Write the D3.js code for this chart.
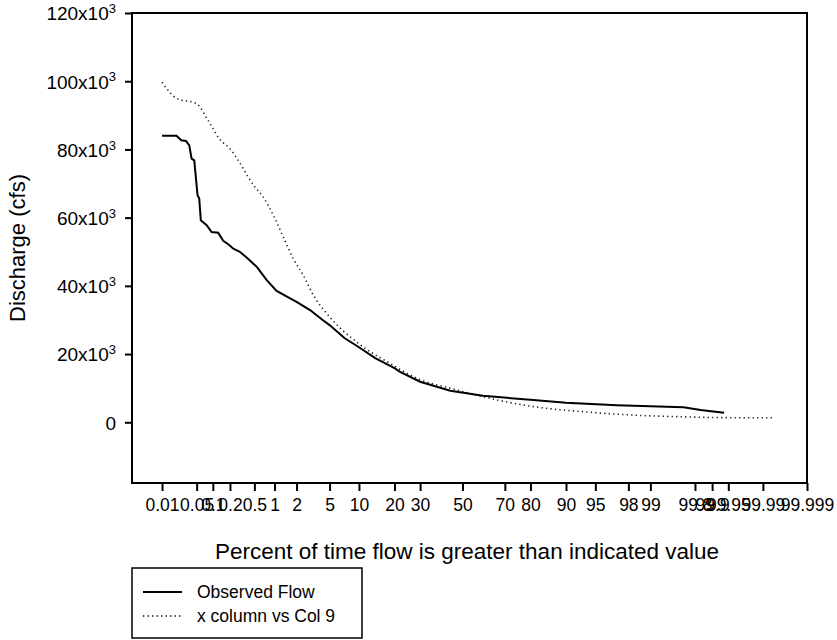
<!DOCTYPE html>
<html>
<head>
<meta charset="utf-8">
<script src="https://cdn.jsdelivr.net/npm/d3@7"></script>
<style>
  html, body { margin: 0; padding: 0; background: #fff; }
  svg { display: block; font-family: "Liberation Sans", Arial, sans-serif; }
</style>
</head>
<body>
<svg id="chart" width="837" height="640"></svg>
<script>
// Flow-duration data: percent of time exceeded vs discharge (cfs)
const observedPct = [0.01, 0.02, 0.025, 0.031, 0.036, 0.04, 0.045, 0.052, 0.056, 0.06, 0.077, 0.095, 0.125, 0.153, 0.187, 0.228, 0.293, 0.377, 0.542, 0.77, 1.07, 2.0, 2.96, 4.07, 5, 7.2, 10, 14, 20, 22, 30, 44, 60, 81, 90, 97.2, 99.69, 99.84, 99.94];
const observedQ   = [84000, 84000, 82700, 82500, 81200, 77300, 76800, 66600, 65600, 59200, 57800, 55800, 55600, 53200, 52200, 50900, 50000, 48300, 45600, 41700, 38500, 35300, 32900, 30200, 28500, 24700, 22000, 18800, 15900, 14800, 11900, 9250, 7800, 6500, 5700, 5000, 4400, 3600, 2800];

const col9Pct = [0.01, 0.02, 0.05, 0.082, 0.134, 0.2, 0.293, 0.4, 0.51, 0.68, 0.96, 1.33, 1.81, 2.44, 3.24, 5, 10, 20, 22, 30, 44, 60, 81, 93.3, 98.3, 99.69, 99.96, 99.994];
const col9Q   = [99700, 95000, 93400, 88500, 82900, 80200, 76000, 71900, 69000, 66100, 60700, 54300, 48000, 43100, 37300, 30900, 23000, 16500, 15500, 12500, 10000, 7500, 4600, 3100, 2100, 1600, 1350, 1350];

// Probability-axis ticks
const xTickPct    = [0.01, 0.05, 0.1, 0.2, 0.5, 1, 2, 5, 10, 20, 30, 50, 70, 80, 90, 95, 98, 99, 99.8, 99.9, 99.95, 99.99, 99.999];
const xTickLabels = ["0.01", "0.05", "0.1", "0.2", "0.5", "1", "2", "5", "10", "20", "30", "50", "70", "80", "90", "95", "98", "99", "99.8", "99.9", "99.95", "99.99", "99.999"];
const yTickValues = [0, 20000, 40000, 60000, 80000, 100000, 120000];
const yTickMant   = ["0", "20x10", "40x10", "60x10", "80x10", "100x10", "120x10"];

const seriesNames = ["Observed Flow", "x column vs Col 9"];

// Axis limits
const xMinPct = 0.00215, xMaxPct = 99.999;
const yMin = -17800, yMax = 120000;

// Inverse standard normal CDF (Acklam's rational approximation)
function probit(p) {
  const a = [-3.969683028665376e+01, 2.209460984245205e+02, -2.759285104469687e+02, 1.383577518672690e+02, -3.066479806614716e+01, 2.506628277459239e+00];
  const b = [-5.447609879822406e+01, 1.615858368580409e+02, -1.556989798598866e+02, 6.680131188771972e+01, -1.328068155288572e+01];
  const c = [-7.784894002430293e-03, -3.223964580411365e-01, -2.400758277161838e+00, -2.549732539343734e+00, 4.374664141464968e+00, 2.938163982698783e+00];
  const d = [7.784695709041462e-03, 3.224671290700398e-01, 2.445134137142996e+00, 3.754408661907416e+00];
  const pLow = 0.02425;
  let q, r;
  if (p < pLow) {
    q = Math.sqrt(-2 * Math.log(p));
    return (((((c[0]*q+c[1])*q+c[2])*q+c[3])*q+c[4])*q+c[5]) / ((((d[0]*q+d[1])*q+d[2])*q+d[3])*q+1);
  } else if (p <= 1 - pLow) {
    q = p - 0.5; r = q * q;
    return (((((a[0]*r+a[1])*r+a[2])*r+a[3])*r+a[4])*r+a[5])*q / (((((b[0]*r+b[1])*r+b[2])*r+b[3])*r+b[4])*r+1);
  } else {
    q = Math.sqrt(-2 * Math.log(1 - p));
    return -(((((c[0]*q+c[1])*q+c[2])*q+c[3])*q+c[4])*q+c[5]) / ((((d[0]*q+d[1])*q+d[2])*q+d[3])*q+1);
  }
}
const z = pct => probit(pct / 100);

const svg = d3.select("#chart");
const plot = { left: 132, right: 807, top: 13, bottom: 483 };

// x: linear in normal-quantile space; y: linear discharge
const xz = d3.scaleLinear().domain([z(xMinPct), z(xMaxPct)]).range([plot.left, plot.right]);
const x = pct => xz(z(pct));
const y = d3.scaleLinear().domain([yMin, yMax]).range([plot.bottom, plot.top]);

// Frame
svg.append("rect")
  .attr("x", plot.left).attr("y", plot.top)
  .attr("width", plot.right - plot.left).attr("height", plot.bottom - plot.top)
  .attr("fill", "none").attr("stroke", "#000").attr("stroke-width", 2);

// Bottom probability axis
const xAxis = d3.axisBottom(xz)
  .tickValues(xTickPct.map(z))
  .tickFormat((d, i) => xTickLabels[i])
  .tickSize(8).tickSizeOuter(0).tickPadding(8);
const gx = svg.append("g").attr("transform", `translate(0,${plot.bottom})`).call(xAxis);
gx.select(".domain").remove();
gx.selectAll(".tick line").attr("stroke", "#000").attr("stroke-width", 2);
gx.selectAll(".tick text").attr("font-size", 17.5).attr("fill", "#000")
  .attr("font-family", "Liberation Sans, Arial, sans-serif");

// Left axis with x10^3 labels
const yAxis = d3.axisLeft(y).tickValues(yTickValues).tickSize(7).tickSizeOuter(0).tickFormat("");
const gy = svg.append("g").attr("transform", `translate(${plot.left},0)`).call(yAxis);
gy.select(".domain").remove();
gy.selectAll(".tick line").attr("stroke", "#000").attr("stroke-width", 2);
gy.selectAll(".tick").each(function (d, i) {
  const t = d3.select(this).append("text")
    .attr("x", -16).attr("dy", "0.36em")
    .attr("text-anchor", "end")
    .attr("font-size", 19).attr("fill", "#000")
    .attr("font-family", "Liberation Sans, Arial, sans-serif");
  t.append("tspan").text(yTickMant[i]);
  if (d !== 0) {
    t.append("tspan").attr("font-size", 13).attr("dy", "-0.55em").text("3");
  }
});

// Axis titles
svg.append("text")
  .attr("x", 467).attr("y", 559)
  .attr("text-anchor", "middle").attr("font-size", 22.5).attr("fill", "#000")
  .text("Percent of time flow is greater than indicated value");
svg.append("text")
  .attr("transform", `translate(25,${(plot.top + plot.bottom) / 2}) rotate(-90)`)
  .attr("text-anchor", "middle").attr("font-size", 22).attr("fill", "#000")
  .text("Discharge (cfs)");

// Series lines
const observed = observedPct.map((p, i) => [p, observedQ[i]]);
const col9 = col9Pct.map((p, i) => [p, col9Q[i]]);

svg.append("path")
  .datum(col9)
  .attr("fill", "none").attr("stroke", "#222").attr("stroke-width", 1.6)
  .attr("stroke-dasharray", "1.3,3.2")
  .attr("d", d3.line().x(d => x(d[0])).y(d => y(d[1])).curve(d3.curveMonotoneX));

svg.append("path")
  .datum(observed)
  .attr("fill", "none").attr("stroke", "#000").attr("stroke-width", 2)
  .attr("d", d3.line().x(d => x(d[0])).y(d => y(d[1])));

// Legend
const lg = svg.append("g");
lg.append("rect").attr("x", 132).attr("y", 568).attr("width", 230).attr("height", 70)
  .attr("fill", "#fff").attr("stroke", "#000").attr("stroke-width", 1.5);
const rows = [{ dash: null, w: 2 }, { dash: "1.3,3.2", w: 1.6 }];
rows.forEach((r, i) => {
  const cy = 592 + i * 24;
  lg.append("line").attr("x1", 143).attr("x2", 182).attr("y1", cy).attr("y2", cy)
    .attr("stroke", "#000").attr("stroke-width", r.w)
    .attr("stroke-dasharray", r.dash);
  lg.append("text").attr("x", 197).attr("y", cy).attr("dy", "0.36em")
    .attr("font-size", 17.5).attr("fill", "#000").text(seriesNames[i]);
});
</script>
</body>
</html>
